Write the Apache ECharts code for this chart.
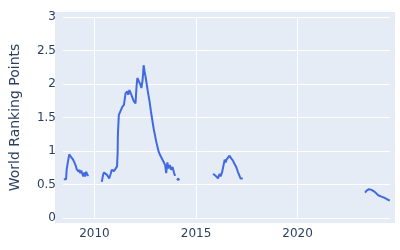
<!DOCTYPE html>
<html>
<head>
<meta charset="utf-8">
<script src="https://cdn.jsdelivr.net/npm/echarts@6/dist/echarts.min.js"></script>
<style>html,body{margin:0;padding:0;background:#fff}#c{width:400px;height:250px}</style>
</head>
<body>
<div id="c"></div>
<script>
// Decimal-year dates and World Ranking Points; null marks a gap
var years = [
  2008.49,2008.60,2008.63,2008.68,2008.76,2008.80,2008.85,2008.93,2009.01,2009.09,2009.12,2009.17,2009.22,2009.25,2009.30,2009.35,2009.41,2009.45,2009.50,2009.54,2009.59,2009.66,2009.71,
  2010.0,
  2010.36,2010.42,2010.47,2010.55,2010.63,2010.72,2010.80,2010.85,2010.91,2010.96,2011.04,2011.11,2011.14,2011.15,2011.17,2011.20,2011.28,2011.37,2011.45,2011.53,2011.61,2011.66,2011.72,2011.79,2011.85,2011.94,2012.02,2012.07,2012.11,2012.18,2012.26,2012.31,2012.37,2012.42,2012.47,2012.54,2012.62,2012.71,2012.78,2012.91,2013.04,2013.16,2013.23,2013.40,2013.48,2013.53,2013.59,2013.64,2013.71,2013.77,2013.84,2013.92,2013.97,
  2014.05,
  2014.12,
  2015.0,
  2015.84,2015.92,2016.00,2016.08,2016.16,2016.21,2016.28,2016.36,2016.41,2016.46,2016.50,2016.57,2016.65,2016.73,2016.81,2016.89,2016.98,2017.06,2017.14,2017.19,2017.30,
  2020.0,
  2023.32,2023.40,2023.51,2023.64,2023.80,2023.97,2024.13,2024.29,2024.40,2024.54
];
var points = [
  0.58,0.58,0.72,0.82,0.95,0.97,0.91,0.88,0.83,0.77,0.73,0.74,0.69,0.72,0.67,0.71,0.65,0.62,0.68,0.62,0.69,0.64,0.63,
  null,
  0.54,0.64,0.68,0.67,0.64,0.59,0.66,0.72,0.72,0.70,0.72,0.77,0.97,1.21,1.36,1.54,1.56,1.66,1.69,1.86,1.89,1.84,1.91,1.86,1.81,1.74,1.71,1.96,2.09,2.09,1.99,1.94,2.06,2.28,2.18,2.06,1.90,1.74,1.59,1.34,1.14,0.99,0.94,0.84,0.79,0.67,0.83,0.74,0.79,0.72,0.76,0.67,0.63,
  null,
  0.58,
  null,
  0.66,0.64,0.62,0.59,0.66,0.62,0.68,0.67,0.87,0.83,0.87,0.85,0.93,0.89,0.86,0.81,0.76,0.69,0.63,0.59,0.59,
  null,
  0.38,0.41,0.43,0.42,0.39,0.34,0.32,0.30,0.28,0.26
];
var xTicks = [2010, 2015, 2020];
var yTicks = [0, 0.5, 1, 1.5, 2, 2.5, 3];

var lineColor = '#4169E1';
var txt = '#2a3f5f';

var data = years.map(function (y, i) {
  var v = points[i];
  var prevNull = i === 0 || points[i - 1] === null;
  var nextNull = i === points.length - 1 || points[i + 1] === null;
  if (v !== null && prevNull && nextNull) {
    return { value: [y, v], symbol: 'circle', symbolSize: 3 };
  }
  return { value: [y, v], symbol: 'none' };
});

var chart = echarts.init(document.getElementById('c'), null, { renderer: 'canvas' });
chart.setOption({
  animation: false,
  backgroundColor: '#ffffff',
  graphic: [{
    type: 'rect', z: -100, silent: true,
    shape: { x: 55, y: 12, width: 340, height: 211 },
    style: { fill: '#E5ECF6' }
  }],
  grid: { left: 60, right: 10, top: 17, bottom: 32, containLabel: false },
  xAxis: {
    type: 'value', min: 2008.45, max: 2024.55,
    axisLine: { show: false }, axisTick: { show: false, customValues: xTicks },
    axisLabel: { customValues: xTicks, color: txt, fontSize: 12, fontFamily: 'DejaVu Sans', margin: 10,
      formatter: function (v) { return String(v); } },
    splitLine: { show: true, lineStyle: { color: '#ffffff', width: 1 } }
  },
  yAxis: {
    type: 'value', min: 0, max: 3, interval: 0.5,
    name: 'World Ranking Points', nameLocation: 'middle', nameGap: 41,
    nameTextStyle: { color: txt, fontSize: 14, fontFamily: 'DejaVu Sans' },
    axisLine: { show: false }, axisTick: { show: false },
    axisLabel: { color: txt, fontSize: 12, fontFamily: 'DejaVu Sans', margin: 7 },
    splitLine: { show: true, lineStyle: { color: '#ffffff', width: 1 } }
  },
  series: [{
    type: 'line',
    data: data,
    connectNulls: false,
    showSymbol: true,
    showAllSymbol: true,
    itemStyle: { color: lineColor },
    lineStyle: { color: lineColor, width: 2 },
    silent: true
  }]
});
</script>
</body>
</html>
